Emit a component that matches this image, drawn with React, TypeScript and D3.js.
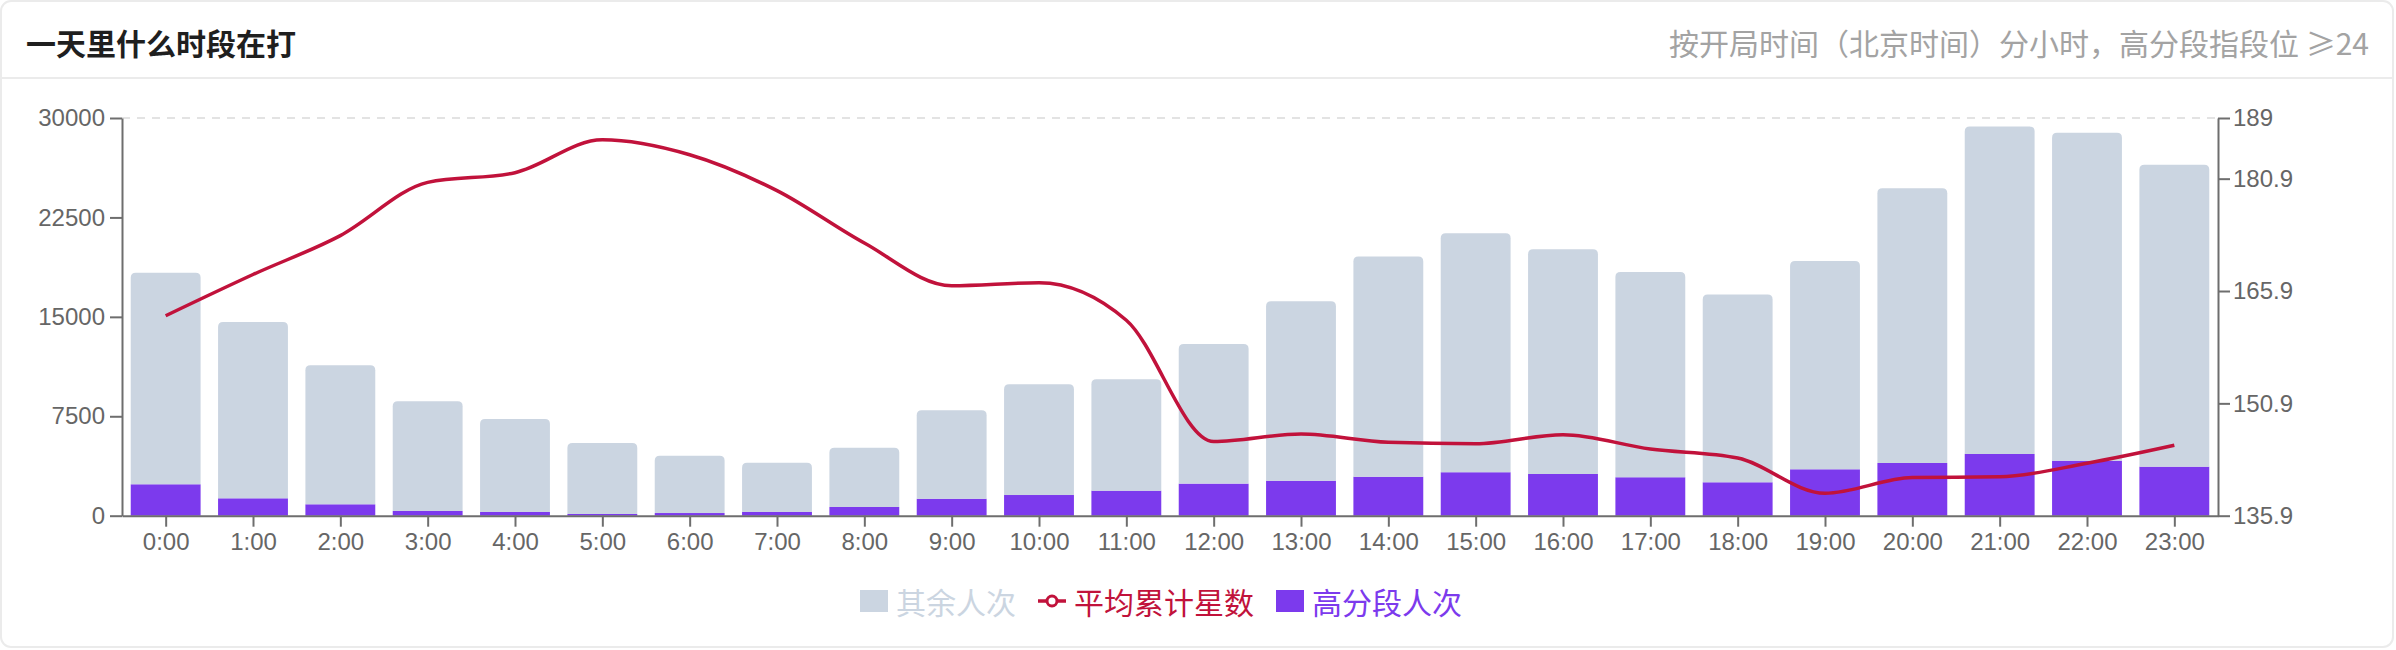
import React, { useEffect, useRef } from 'react'
import * as d3 from 'd3'

// hourly buckets (Beijing time)
const hours = [
  '0:00', '1:00', '2:00', '3:00', '4:00', '5:00', '6:00', '7:00',
  '8:00', '9:00', '10:00', '11:00', '12:00', '13:00', '14:00', '15:00',
  '16:00', '17:00', '18:00', '19:00', '20:00', '21:00', '22:00', '23:00'
]
// 高分段人次 (bottom of the stack)
const highTier = [
  2370, 1310, 860, 360, 280, 130, 200, 280, 660, 1280, 1560, 1890,
  2420, 2640, 2940, 3280, 3150, 2900, 2520, 3500, 3980, 4660, 4150, 3700
]
// 其余人次 (stacked on top)
const otherPlayers = [
  15950, 13310, 10490, 8270, 7020, 5360, 4330, 3710, 4470, 6680, 8360, 8400,
  10540, 13540, 16620, 18030, 16950, 15490, 14160, 15720, 20730, 24700, 24730, 22770
]
// 平均累计星数 (right axis)
const avgStars = [
  162.6, 168.1, 173.3, 180.4, 181.7, 186.1, 184.1, 179.3, 172.3, 166.6, 167.0, 162.0,
  145.8, 146.8, 145.7, 145.5, 146.7, 144.8, 143.6, 138.9, 141.0, 141.1, 142.9, 145.3
]
const countTicks = [0, 7500, 15000, 22500, 30000]
const starTicks = [135.9, 150.9, 165.9, 180.9, 189]

const W = 2396
const H = 650
const plot = { left: 122, right: 2218, top: 118, bottom: 515.7 }

const GREY = '#cbd5e1'
const PURPLE = '#7c3aed'
const RED = '#c1123b'
const AXIS = '#6e6e6e'
const NUM_FONT = '"Liberation Sans", "Noto Sans CJK SC", sans-serif'
const CJK_FONT = '"Noto Sans CJK SC", sans-serif'

const topRounded = (x: number, y: number, w: number, h: number, r: number) => {
  const rr = Math.min(r, h, w / 2)
  return `M${x},${y + h}V${y + rr}Q${x},${y} ${x + rr},${y}H${x + w - rr}Q${x + w},${y} ${x + w},${y + rr}V${y + h}Z`
}

const styleAxis = (g: d3.Selection<SVGGElement, unknown, null, undefined>) => {
  g.select('.domain').attr('stroke', AXIS).attr('stroke-width', 2)
  g.selectAll('.tick line').attr('stroke', AXIS).attr('stroke-width', 2)
  g.selectAll('.tick text')
    .attr('fill', '#666')
    .attr('font-size', 24)
    .attr('font-family', NUM_FONT)
}

const drawChart = (node: SVGSVGElement) => {
  const svg = d3.select(node)
  svg.selectAll('*').remove()

  // card + header
  svg.append('rect')
    .attr('x', 1).attr('y', 1)
    .attr('width', 2392).attr('height', 646)
    .attr('rx', 10)
    .attr('fill', '#fff')
    .attr('stroke', '#ebebeb')
    .attr('stroke-width', 2)
  svg.append('line')
    .attr('x1', 1).attr('x2', 2393)
    .attr('y1', 78).attr('y2', 78)
    .attr('stroke', '#ebebeb')
    .attr('stroke-width', 2)

  svg.append('text')
    .text('一天里什么时段在打')
    .attr('x', 26).attr('y', 42)
    .attr('dominant-baseline', 'central')
    .attr('font-family', CJK_FONT)
    .attr('font-size', 30)
    .attr('font-weight', 600)
    .attr('fill', '#1f1f1f')
  svg.append('text')
    .text('按开局时间（北京时间）分小时，高分段指段位 ≥24')
    .attr('x', 2369).attr('y', 42)
    .attr('text-anchor', 'end')
    .attr('dominant-baseline', 'central')
    .attr('font-family', CJK_FONT)
    .attr('font-size', 30)
    .attr('fill', '#a3a3a3')

  // scales
  const x = d3.scaleBand<string>()
    .domain(hours)
    .range([plot.left, plot.right])
    .paddingInner(0.2)
    .paddingOuter(0.1)
  const xc = d3.scalePoint<string>()
    .domain(hours)
    .range([plot.left, plot.right])
    .padding(0.5)
  const yCount = d3.scaleLinear().domain([0, 30000]).range([plot.bottom, plot.top])
  const yStar = d3.scaleLinear().domain([135.9, 189]).range([plot.bottom, plot.top])

  // top split line
  svg.append('line')
    .attr('x1', plot.left).attr('x2', plot.right)
    .attr('y1', yCount(30000)).attr('y2', yCount(30000))
    .attr('stroke', '#e3e3e3')
    .attr('stroke-width', 2)
    .attr('stroke-dasharray', '8 7')

  // stacked bars
  const bw = x.bandwidth()
  const bars = svg.append('g')
  bars.selectAll('rect')
    .data(highTier)
    .enter()
    .append('rect')
    .attr('x', (d, i) => x(hours[i]) as number)
    .attr('y', (d) => yCount(d))
    .attr('width', bw)
    .attr('height', (d) => plot.bottom - yCount(d))
    .attr('fill', PURPLE)
  bars.selectAll('path')
    .data(otherPlayers)
    .enter()
    .append('path')
    .attr('d', (d, i) => {
      const y0 = yCount(highTier[i])
      const y1 = yCount(highTier[i] + d)
      return topRounded(x(hours[i]) as number, y1, bw, y0 - y1, 5)
    })
    .attr('fill', GREY)

  // axes
  const left = svg.append('g')
    .attr('transform', `translate(${plot.left},0)`)
    .call(d3.axisLeft(yCount).tickValues(countTicks).tickSize(12).tickSizeOuter(0).tickPadding(5).tickFormat((d) => String(d)))
  styleAxis(left)

  const right = svg.append('g')
    .attr('transform', `translate(${plot.right},0)`)
    .call(
      d3.axisRight(yStar)
        .tickValues(starTicks)
        .tickSize(12)
        .tickSizeOuter(0)
        .tickPadding(3)
        .tickFormat((d) => (Number.isInteger(+d) ? String(d) : (+d).toFixed(1)))
    )
  styleAxis(right)

  const bottom = svg.append('g')
    .attr('transform', `translate(0,${plot.bottom})`)
    .call(d3.axisBottom(xc).tickSize(11).tickSizeOuter(0).tickPadding(6))
  styleAxis(bottom)

  // average stars line
  const line = d3.line<number>()
    .x((d, i) => xc(hours[i]) as number)
    .y((d) => yStar(d))
    .curve(d3.curveMonotoneX)
  svg.append('path')
    .datum(avgStars)
    .attr('d', line)
    .attr('fill', 'none')
    .attr('stroke', RED)
    .attr('stroke-width', 3.5)
    .attr('stroke-linejoin', 'round')

  // legend
  const items = [
    { name: '其余人次', color: GREY, kind: 'rect' },
    { name: '平均累计星数', color: RED, kind: 'line' },
    { name: '高分段人次', color: PURPLE, kind: 'rect' }
  ]
  const legend = svg.append('g')
  const ly = 601
  let cursor = 0
  items.forEach((item) => {
    const g = legend.append('g').attr('transform', `translate(${cursor},0)`)
    if (item.kind === 'rect') {
      g.append('rect')
        .attr('x', 0).attr('y', ly - 11)
        .attr('width', 28).attr('height', 22)
        .attr('fill', item.color)
    } else {
      g.append('line')
        .attr('x1', 0).attr('x2', 28)
        .attr('y1', ly).attr('y2', ly)
        .attr('stroke', item.color)
        .attr('stroke-width', 3.5)
      g.append('circle')
        .attr('cx', 14).attr('cy', ly)
        .attr('r', 5)
        .attr('fill', '#fff')
        .attr('stroke', item.color)
        .attr('stroke-width', 3)
    }
    const t = g.append('text')
      .text(item.name)
      .attr('x', 36).attr('y', ly)
      .attr('dominant-baseline', 'central')
      .attr('font-family', CJK_FONT)
      .attr('font-size', 30)
      .attr('fill', item.color)
    const tw = (t.node() as SVGTextElement).getComputedTextLength()
    cursor += 36 + tw + 22
  })
  const total = cursor - 22
  legend.attr('transform', `translate(${1161 - total / 2},0)`)
}

const App = () => {
  const ref = useRef<SVGSVGElement>(null)

  useEffect(() => {
    if (ref.current) drawChart(ref.current)
  }, [])

  return (
    <div style={{ position: 'absolute', left: 0, top: 0 }}>
      <svg ref={ref} width={W} height={H} style={{ display: 'block' }} />
    </div>
  )
}

export default App
